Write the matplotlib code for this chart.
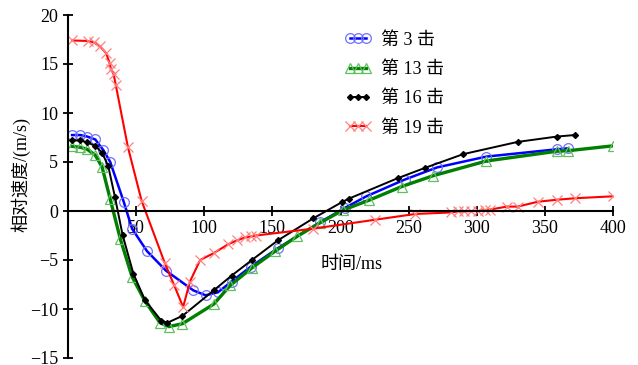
import matplotlib
matplotlib.use("Agg")
import matplotlib.pyplot as plt

plt.rcParams['font.family'] = ['Liberation Serif', 'Noto Sans CJK SC']
plt.rcParams['axes.unicode_minus'] = True

# 第 3 击
x3 = [3, 9, 14, 20, 26, 31, 41, 47, 58, 72, 92, 101, 110, 120, 134, 154, 185, 203, 219, 247, 271, 307, 359, 367]
y3 = [7.75, 7.75, 7.6, 7.3, 6.2, 5.0, 0.9, -1.8, -4.1, -6.1, -8.1, -8.6, -8.3, -7.2, -5.7, -3.8, -1.15, 0.3, 1.5, 3.2, 4.45, 5.55, 6.3, 6.4]

# 第 13 击
x13 = [3, 9, 14, 20, 25, 31, 38.5, 47, 56.5, 67.5, 74, 84, 107, 119, 135, 152, 168, 185, 202, 221, 245, 268, 307, 359, 367, 400]
y13 = [6.6, 6.5, 6.3, 5.7, 4.5, 1.2, -2.9, -6.7, -9.2, -11.4, -11.8, -11.5, -9.5, -7.6, -5.8, -4.1, -2.6, -1.2, 0.1, 1.1, 2.5, 3.6, 5.1, 6.1, 6.15, 6.65]

# 第 16 击
x16 = [3, 9, 14, 20, 25, 29.5, 34.5, 40, 48, 56.5, 68.5, 73, 84, 107, 120, 135, 154, 180, 201, 206, 242, 262, 290, 330, 359, 372]
y16 = [7.2, 7.2, 7.0, 6.65, 5.95, 4.6, 1.4, -2.4, -6.4, -9.1, -11.2, -11.4, -10.7, -8.1, -6.6, -5.0, -3.0, -0.75, 0.9, 1.25, 3.35, 4.4, 5.8, 7.05, 7.6, 7.75]

# 第 19 击
x19 = [3, 15, 19, 23.5, 28, 30.5, 31.5, 33.5, 35, 44, 54, 71, 78, 84.5, 89.5, 97, 107, 117.5, 124, 130, 134, 138, 180, 225, 255, 281, 286, 291, 296, 301, 306, 310, 322, 330, 345, 359, 372, 400]
y19 = [17.4, 17.35, 17.2, 16.8, 16.1, 15.1, 14.5, 13.95, 12.9, 6.5, 1.05, -5.3, -7.6, -9.8, -7.2, -5.0, -4.3, -3.4, -3.0, -2.7, -2.6, -2.5, -1.8, -0.9, -0.3, -0.15, -0.05, -0.05, 0.0, 0.0, 0.1, 0.15, 0.45, 0.45, 0.95, 1.15, 1.3, 1.5]

labels = ['第 3 击', '第 13 击', '第 16 击', '第 19 击']
xticks = [50, 100, 150, 200, 250, 300, 350, 400]
yticks = [-15, -10, -5, 0, 5, 10, 15, 20]

fig = plt.figure(figsize=(6.38, 3.65), dpi=100)
ax = fig.add_axes([68/638, 1-358/365, (613-68)/638, (358-15)/365])

ax.plot(x3, y3, color='#0000ff', lw=1.8, marker='o', ms=7, mfc='none', mec='#7070ff', mew=0.9, label=labels[0])
ax.plot(x13, y13, color='#008000', lw=2.4, marker='^', ms=7, mfc='none', mec='#60c060', mew=0.9, label=labels[1])
ax.plot(x16, y16, color='black', lw=1.4, marker='D', ms=3, mfc='black', mec='black', label=labels[2])
ax.plot(x19, y19, color='#ff0000', lw=1.5, marker='x', ms=7, mec='#ff8080', mew=0.9, label=labels[3])

ax.set_xlim(0, 400)
ax.set_ylim(-15, 20)
ax.spines['top'].set_visible(False)
ax.spines['right'].set_visible(False)
ax.spines['bottom'].set_position(('data', 0))
ax.spines['left'].set_linewidth(1.5)
ax.spines['bottom'].set_linewidth(1.5)
ax.set_xticks(xticks)
ax.set_yticks(yticks)
ax.tick_params(axis='both', direction='inout', length=7, width=1.3, labelsize=13)
ax.tick_params(axis='x', pad=3)

fig.text(352/638, 1-265/365, '时间/ms', fontsize=13, ha='center', va='center')
fig.text(21/638, 1-175/365, '相对速度/(m/s)', fontsize=13, ha='center', va='center', rotation=90)

ax.legend(loc='upper left', bbox_to_anchor=(332/638, 1-19/365), bbox_transform=fig.transFigure,
          frameon=False, fontsize=13, handlelength=1.5, handletextpad=0.5, labelspacing=0.68,
          numpoints=3, borderpad=0.2)

fig.savefig('out.png', dpi=100)
